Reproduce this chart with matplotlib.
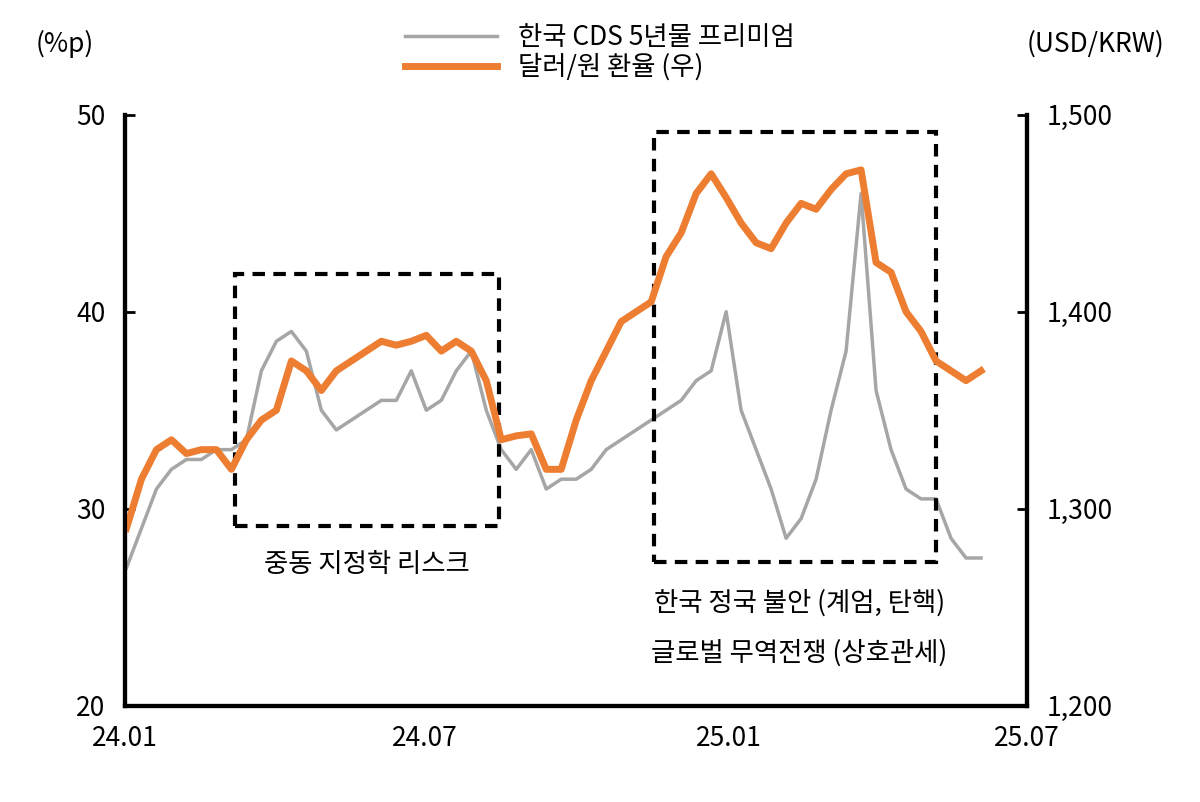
import matplotlib
matplotlib.use("Agg")
import matplotlib.pyplot as plt
import matplotlib.dates as mdates
import pandas as pd
from matplotlib.patches import Rectangle

plt.rcParams["font.family"] = ["Noto Sans CJK JP", "Noto Sans CJK KR", "Noto Sans CJK SC", "DejaVu Sans"]

START = "2024-01-02"
END = "2025-06-03"

cds = [27, 29, 31, 32, 32.5, 32.5, 33, 33, 33.5, 37, 38.5, 39, 38, 35, 34, 34.5, 35, 35.5, 35.5, 37,
       35, 35.5, 37, 38, 35, 33, 32, 33, 31, 31.5, 31.5, 32, 33, 33.5, 34, 34.5, 35, 35.5, 36.5, 37,
       40, 35, 33, 31, 28.5, 29.5, 31.5, 35, 38, 46, 36, 33, 31, 30.5, 30.5, 28.5, 27.5, 27.5]
krw = [1290, 1315, 1330, 1335, 1328, 1330, 1330, 1320, 1335, 1345, 1350, 1375, 1370, 1360, 1370, 1375,
       1380, 1385, 1383, 1385, 1388, 1380, 1385, 1380, 1365, 1335, 1337, 1338, 1320, 1320, 1345, 1365,
       1380, 1395, 1400, 1405, 1428, 1440, 1460, 1470, 1458, 1445, 1435, 1432, 1445, 1455, 1452, 1462,
       1470, 1472, 1425, 1420, 1400, 1390, 1375, 1370, 1365, 1370]

dates = pd.date_range(START, END, periods=len(cds))

fig = plt.figure(figsize=(12, 8.02), dpi=100)
ax = fig.add_axes([0.104, 0.12, 0.752, 0.737])
ax2 = ax.twinx()

l1, = ax.plot(dates, cds, color="#a6a6a6", lw=2.5)
l2, = ax2.plot(dates, krw, color="#ed7d31", lw=5)
ax.set_zorder(ax2.get_zorder() - 1)
ax2.patch.set_visible(False)

ax.set_ylim(20, 50)
ax.set_yticks([20, 30, 40, 50])
ax2.set_ylim(1200, 1500)
ax2.set_yticks([1200, 1300, 1400, 1500])
ax2.set_yticklabels(["1,200", "1,300", "1,400", "1,500"])
ax.set_xlim(pd.Timestamp("2024-01-01"), pd.Timestamp("2025-07-01"))
ax.set_xticks(pd.to_datetime(["2024-01-01", "2024-07-01", "2025-01-01", "2025-07-01"]))
ax.set_xticklabels(["24.01", "24.07", "25.01", "25.07"])

for a in (ax, ax2):
    a.spines["top"].set_visible(False)
    for s in ("left", "right", "bottom"):
        a.spines[s].set_linewidth(3)
    a.tick_params(labelsize=19, direction="in", length=7, width=2, pad=14)
ax.tick_params(axis="x", length=0, pad=14)

# dashed boxes
boxes = [("2024-03-08", "2024-08-15", 29.1, 41.9), ("2024-11-17", "2025-05-07", 27.3, 49.1)]
for x0, x1, y0, y1 in boxes:
    d0, d1 = mdates.datestr2num(x0), mdates.datestr2num(x1)
    ax2.add_patch(Rectangle((d0, 1200 + (y0 - 20) * 10), d1 - d0, (y1 - y0) * 10, fill=False,
                            ls=(0, (3, 2)), lw=3, ec="black"))

ax.text(pd.Timestamp("2024-05-27"), 26.8, "중동 지정학 리스크", fontsize=19, ha="center")
ax.text(pd.Timestamp("2025-02-13"), 24.8, "한국 정국 불안 (계엄, 탄핵)", fontsize=19, ha="center")
ax.text(pd.Timestamp("2025-02-13"), 22.3, "글로벌 무역전쟁 (상호관세)", fontsize=19, ha="center")

fig.text(0.03, 0.935, "(%p)", fontsize=19)
fig.text(0.97, 0.935, "(USD/KRW)", fontsize=19, ha="right")
fig.legend([l1, l2], ["한국 CDS 5년물 프리미엄", "달러/원 환율 (우)"], loc="upper center",
           bbox_to_anchor=(0.5, 1.0), frameon=False, fontsize=19, handlelength=3.5,
           labelspacing=0.1)

fig.savefig("out.png", dpi=100)
